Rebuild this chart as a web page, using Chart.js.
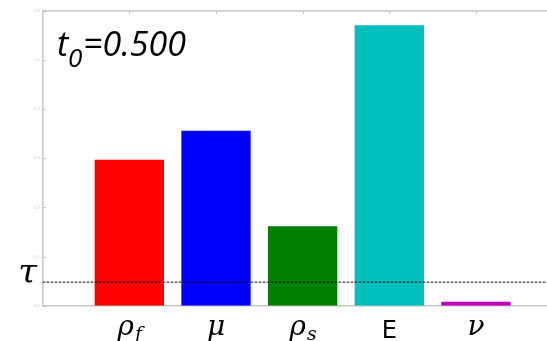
<!DOCTYPE html>
<html>
<head>
<meta charset="utf-8">
<script src="https://cdn.jsdelivr.net/npm/chart.js@4"></script>
<style>
  html, body { margin: 0; padding: 0; background: #fff; }
  #wrap { width: 547px; height: 341px; position: relative; }
</style>
</head>
<body>
<div id="wrap"><canvas id="c"></canvas></div>
<script>
// Parameters (base symbol + subscript) and their sensitivity values
const paramBase = ['ρ', 'μ', 'ρ', 'E', 'ν'];
const paramSub  = ['f', '',  's', '',  ''];
const sensitivity = [0.297, 0.356, 0.162, 0.571, 0.008];
const barColors = ['#ff0000', '#0000ff', '#008000', '#00bfbf', '#bf00bf'];
const tau = 0.048;
const yTicks = [0.0, 0.1, 0.2, 0.3, 0.4, 0.5, 0.6];
const timeLabel = '0.500';

const SPINE = '#c6c6c6';
const barPoints = sensitivity.map((v, i) => ({ x: i + 1, y: v }));
const X_MAX = 5.82;

const decorations = {
  id: 'decorations',
  afterDatasetsDraw(chart) {
    const { ctx, chartArea: a, scales: { x, y } } = chart;
    ctx.save();
    // top spine
    ctx.strokeStyle = SPINE;
    ctx.lineWidth = 1.5;
    ctx.beginPath();
    ctx.moveTo(a.left, a.top);
    ctx.lineTo(a.right, a.top);
    ctx.stroke();
    // inward tick marks: left axis and top axis
    ctx.lineWidth = 1;
    ctx.beginPath();
    yTicks.forEach(v => {
      const py = Math.round(y.getPixelForValue(v)) + 0.5;
      ctx.moveTo(a.left, py);
      ctx.lineTo(a.left + 3, py);
    });
    barPoints.forEach(p => {
      const px = Math.round(x.getPixelForValue(p.x)) + 0.5;
      ctx.moveTo(px, a.top);
      ctx.lineTo(px, a.top + 3);
    });
    ctx.stroke();

    // category labels under the axis
    ctx.fillStyle = '#000';
    ctx.textBaseline = 'alphabetic';
    paramBase.forEach((b, i) => {
      const cx = x.getPixelForValue(barPoints[i].x);
      if (b === 'E') {
        ctx.font = '24px "DejaVu Sans"';
        ctx.textAlign = 'center';
        ctx.fillText(b, cx, 338);
        return;
      }
      ctx.font = 'italic 28px "DejaVu Serif"';
      const wb = ctx.measureText(b).width;
      let ws = 0;
      if (paramSub[i]) {
        ctx.font = 'italic 19px "DejaVu Serif"';
        ws = ctx.measureText(paramSub[i]).width;
      }
      const x0 = cx - (wb + ws) / 2;
      ctx.textAlign = 'left';
      ctx.font = 'italic 28px "DejaVu Serif"';
      ctx.fillText(b, x0, 335);
      if (paramSub[i]) {
        ctx.font = 'italic 19px "DejaVu Serif"';
        ctx.fillText(paramSub[i], x0 + wb + 1, 340);
      }
    });

    // threshold symbol
    ctx.font = 'italic 34px "DejaVu Serif"';
    ctx.textAlign = 'right';
    ctx.fillText('τ', 37, y.getPixelForValue(tau) + 1);

    // time annotation
    ctx.textAlign = 'left';
    ctx.font = 'italic 34px "Open Sans"';
    ctx.fillText('t', 57, 56);
    ctx.font = 'italic 26px "Open Sans"';
    ctx.fillText('0', 68, 67);
    ctx.font = 'italic 34px "Open Sans"';
    ctx.fillText('=' + timeLabel, 83, 56);
    ctx.restore();
  }
};

new Chart(document.getElementById('c'), {
  data: {
    datasets: [
      {
        type: 'bar',
        data: barPoints,
        backgroundColor: barColors,
        borderWidth: 0,
        barPercentage: 0.8,
        categoryPercentage: 1.0,
        order: 2
      },
      {
        type: 'line',
        data: [{ x: 0, y: tau }, { x: X_MAX, y: tau }],
        borderColor: '#000',
        borderWidth: 1,
        borderDash: [2.5, 1.5],
        pointRadius: 0,
        fill: false,
        order: 1
      }
    ]
  },
  options: {
    responsive: true,
    maintainAspectRatio: false,
    animation: false,
    layout: { padding: { top: 11, left: 0, right: 0, bottom: 0 } },
    plugins: { legend: { display: false }, tooltip: { enabled: false } },
    scales: {
      x: {
        type: 'linear',
        min: 0,
        max: X_MAX,
        offset: false,
        grid: { display: false, drawTicks: false },
        border: { display: true, color: SPINE, width: 1.5 },
        afterBuildTicks(s) { s.ticks = barPoints.map(p => ({ value: p.x })); },
        ticks: { display: false },
        afterFit(s) { s.height = 35.3; }
      },
      y: {
        min: 0,
        max: 0.6,
        grid: { display: false, drawTicks: false },
        border: { display: true, color: SPINE, width: 1.5 },
        afterBuildTicks(s) { s.ticks = yTicks.map(v => ({ value: v })); },
        ticks: {
          padding: 3,
          color: '#c8c8c8',
          font: { size: 4 },
          callback: v => v.toFixed(1)
        },
        afterFit(s) { s.width = 42.7; }
      }
    }
  },
  plugins: [decorations]
});
</script>
</body>
</html>
